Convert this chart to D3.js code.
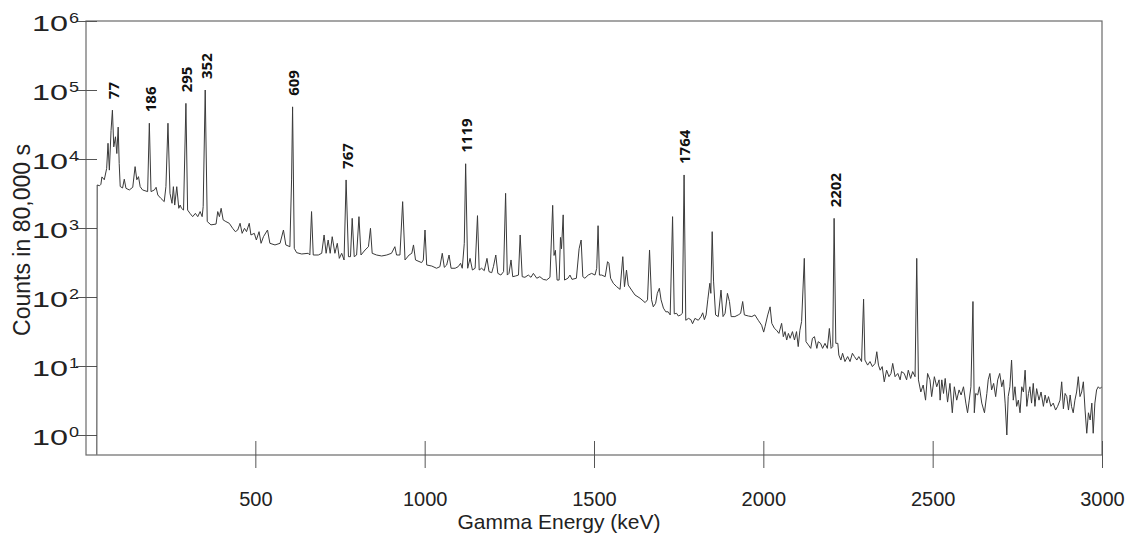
<!DOCTYPE html>
<html>
<head>
<meta charset="utf-8">
<script src="https://cdn.jsdelivr.net/npm/d3@7"></script>
<style>
  html, body { margin: 0; padding: 0; background: #fff; }
  svg { display: block; }
</style>
</head>
<body>
<svg id="chart" width="1135" height="537"></svg>
<script>
// ---------- DATA ----------
// Gamma spectrum: [energy keV, counts in 80,000 s]
const spectrum = [
  [32,0.52],[33,4200],[40,4100],[44,4300],[47,5500],[54,5000],[61,7300],[65,16900],[69,6900],[74,26000],
  [78,51000],[82,15000],[87,21000],[91,12000],[95,29000],[98,8600],[101,4000],[108,3800],[113,5100],[118,3760],
  [128,3560],[138,3890],[145,7750],[150,5000],[155,5550],[160,3970],[167,3560],[182,3370],[187,33000],[192,3370],
  [202,3560],[207,3890],[212,3010],[221,2690],[231,2410],[236,3970],[242,33000],[248,3180],[254,2280],[258,3970],
  [262,2150],[268,3970],[274,1930],[278,2150],[282,1930],[288,1820],[295,64000],[300,1820],[307,1630],[315,1460],
  [323,1630],[330,1460],[337,1730],[343,1460],[346,2040],[352,100000],[358,1240],[369,1110],[384,1140],[389,1730],
  [394,1460],[399,1930],[405,1310],[413,1240],[423,1170],[433,990],[441,885],[448,935],[455,1170],[461,837],
  [468,990],[474,885],[482,1170],[487,792],[497,837],
  [503,670],[511,885],[517,600],[524,748],[536,935],[543,600],[558,568],[573,600],[583,935],[590,568],
  [602,536],[607,4970],[610,57000],[615,507],[622,439],[637,420],[656,430],[661,406],[666,1730],[671,406],
  [686,406],[696,430],[703,792],[709,430],[715,670],[721,430],[727,748],[735,430],[742,600],[748,363],
  [755,430],[762,344],[768,4970],[775,384],[781,384],[786,1380],[792,384],[799,406],[806,1460],[812,406],
  [824,480],[834,536],[840,990],[845,430],[858,406],[873,393],[888,406],[902,430],[912,536],[917,406],
  [927,406],[935,2410],[942,344],[954,406],[962,430],[967,568],[973,344],[991,315],[996,344],[1001,935],
  [1006,291],[1021,281],[1035,261],[1045,275],[1052,430],[1058,269],[1065,291],[1072,406],[1078,261],[1090,261],
  [1099,275],[1106,308],[1111,261],[1117,600],[1121,8530],[1127,261],[1134,363],[1141,246],[1149,261],[1156,1510],
  [1161,246],[1168,261],[1176,241],[1184,363],[1190,233],[1198,225],[1203,275],[1210,406],[1216,220],[1225,208],
  [1233,233],[1239,3180],[1244,208],[1249,220],[1255,344],[1260,197],[1269,202],[1277,208],[1282,792],[1288,197],
  [1296,193],[1306,208],[1314,193],[1321,220],[1331,187],[1340,197],[1350,180],[1360,176],[1370,193],[1378,2130],
  [1382,400],[1386,475],[1391,176],[1397,176],[1401,730],[1404,500],[1409,1550],[1413,176],[1423,187],[1429,208],
  [1435,180],[1448,187],[1456,500],[1462,670],[1467,197],[1473,187],[1483,208],[1493,220],[1503,208],[1508,260],
  [1512,1080],[1516,208],[1523,208],[1533,197],[1540,325],[1544,308],[1549,187],[1557,158],[1567,141],[1577,129],
  [1585,384],[1590,141],[1596,246],[1601,149],[1611,126],[1621,107],[1636,96],[1651,83],[1658,91],[1664,480],
  [1670,91],[1675,72],[1682,81],[1687,113],[1693,134],[1698,91],[1705,69],[1712,61],[1719,61],[1725,55],
  [1732,1460],[1737,57],[1744,58],[1749,53],[1756,55],[1761,58],[1766,5870],[1771,46],[1779,49],[1786,47],
  [1791,41],[1798,49],[1808,46],[1816,52],[1821,59],[1826,47],[1831,55],[1836,91],[1842,158],[1845,113],
  [1849,885],[1853,170],[1859,55],[1867,52],[1875,126],[1881,52],[1887,58],[1894,113],[1900,86],[1905,52],
  [1916,52],[1926,55],[1933,58],[1939,86],[1944,55],[1956,53],[1966,52],[1975,55],[1985,46],[1995,39],
  [2001,31],[2005,37],[2013,55],[2020,72],[2025,41.5],[2033,35],[2039,33],[2046,29.7],[2054,41.5],[2059,26.6],
  [2064,31.5],[2069,23.8],[2074,29.7],[2079,25.2],[2086,31.5],[2092,23.8],[2098,31.5],[2103,19.1],[2108,33],[2113,44],
  [2121,363],[2126,22.5],[2133,20.2],[2140,18.0],[2145,25.2],[2151,26.6],[2158,18.0],[2162,22.5],[2169,21.3],[2175,18.0],
  [2182,21.3],[2189,18.0],[2195,35],[2200,18.0],[2205,19.1],[2209,1380],[2214,21.3],[2220,21.3],[2223,14.4],[2229,12.2],
  [2234,15.3],[2241,11.6],[2249,13.7],[2256,11.6],[2263,15.3],[2269,13.7],[2276,12.2],[2282,13.7],[2290,11.6],[2296,93],
  [2300,12.2],[2308,10.3],[2315,11.6],[2322,9.8],[2330,10.9],[2335,16.1],[2340,10.3],[2345,8.7],[2351,9.8],[2357,5.9],
  [2364,8.7],[2371,7.0],[2377,7.8],[2382,10.9],[2389,7.0],[2397,7.8],[2404,6.3],[2408,8.3],[2416,7.8],[2423,6.3],
  [2428,8.7],[2435,6.6],[2441,8.3],[2448,7.0],[2453,363],[2458,6.3],[2465,4.2],[2472,5.3],[2479,3.2],[2485,7.8],
  [2492,6.3],[2497,3.6],[2505,7.0],[2512,5.0],[2519,6.3],[2522,3.2],[2527,6.3],[2532,4.0],[2537,6.6],[2544,3.0],
  [2551,5.6],[2558,2.1],[2564,5.0],[2571,3.2],[2578,4.5],[2584,3.8],[2591,5.0],[2598,2.9],[2603,2.1],[2608,3.2],
  [2613,5.0],[2619,86],[2623,2.1],[2627,4.0],[2633,3.8],[2638,5.0],[2645,2.9],[2653,2.1],[2660,4.0],[2664,6.3],
  [2669,7.8],[2674,4.5],[2680,5.6],[2686,3.6],[2692,6.3],[2698,7.8],[2704,5.0],[2709,6.3],[2714,2.9],[2719,1.0],
  [2723,3.6],[2728,5.0],[2733,12.2],[2738,3.2],[2743,5.0],[2748,2.6],[2753,3.2],[2758,2.1],[2763,5.0],[2768,4.2],
  [2773,8.7],[2778,2.6],[2783,4.0],[2787,5.0],[2792,2.9],[2797,5.6],[2802,2.6],[2807,4.7],[2814,3.2],[2820,4.2],
  [2827,2.6],[2832,3.8],[2837,2.9],[2842,3.6],[2849,2.6],[2856,2.9],[2863,2.3],[2869,2.6],[2876,3.2],[2881,5.9],
  [2886,2.4],[2891,4.0],[2896,3.6],[2901,2.3],[2906,3.8],[2910,2.6],[2915,2.1],[2920,3.2],[2925,4.2],[2930,7.0],
  [2935,3.6],[2940,4.2],[2945,5.9],[2950,2.3],[2955,1.06],[2960,2.1],[2965,1.65],[2970,2.9],[2974,1.06],[2979,2.9],
  [2984,4.5],[2989,5.0],[2994,4.7],[2999,5.0]
];
// Labelled peaks (keV)
const peakLabels = [77, 186, 295, 352, 609, 767, 1119, 1764, 2202];
// Axis ticks
const xTickValues = [500, 1000, 1500, 2000, 2500, 3000];
const yTickExponents = [0, 1, 2, 3, 4, 5, 6];

// ---------- LAYOUT ----------
const svg = d3.select("#chart");
const plot = { left: 86, right: 1102, top: 21, bottom: 455 };

const x = d3.scaleLinear().domain([0, 3000]).range([plot.left, plot.right]);
const y = d3.scaleLog().domain([Math.pow(10, -20 / 69), 1e6]).range([plot.bottom, plot.top]);

svg.append("rect").attr("width", 1135).attr("height", 537).attr("fill", "#fff");

svg.append("defs").append("clipPath").attr("id", "clip")
  .append("rect")
  .attr("x", plot.left).attr("y", plot.top)
  .attr("width", plot.right - plot.left).attr("height", plot.bottom - plot.top);

// Frame
svg.append("rect")
  .attr("x", plot.left).attr("y", plot.top)
  .attr("width", plot.right - plot.left).attr("height", plot.bottom - plot.top)
  .attr("fill", "none").attr("stroke", "#6a6a6a").attr("stroke-width", 1.2);

// X axis
const xAxis = svg.append("g")
  .attr("transform", `translate(0,${plot.bottom})`)
  .call(d3.axisBottom(x).tickValues(xTickValues).tickSizeOuter(0).tickSize(13).tickFormat(d3.format("d")));
xAxis.select(".domain").remove();
xAxis.selectAll(".tick line").attr("y1", -14).attr("y2", 13).attr("stroke", "#555");
xAxis.selectAll(".tick text")
  .attr("y", 51).attr("dy", 0)
  .attr("font-family", "Liberation Sans, Arial, sans-serif")
  .attr("font-size", 20).attr("fill", "#222");

// Y axis
const yAxis = svg.append("g")
  .attr("transform", `translate(${plot.left},0)`)
  .call(d3.axisLeft(y).tickValues(yTickExponents.map(e => Math.pow(10, e))).tickSizeOuter(0).tickSize(10).tickFormat(""));
yAxis.select(".domain").remove();
yAxis.selectAll(".tick line").attr("x1", -10).attr("x2", 11).attr("stroke", "#555");

const yLab = svg.append("g")
  .attr("font-family", "Liberation Sans, Arial, sans-serif")
  .attr("fill", "#222");
yTickExponents.forEach(e => {
  const ty = y(Math.pow(10, e));
  yLab.append("text")
    .attr("x", 32).attr("y", ty + 10)
    .attr("font-size", 22)
    .attr("textLength", 36).attr("lengthAdjust", "spacingAndGlyphs")
    .text("10");
  yLab.append("text")
    .attr("x", 69).attr("y", ty + 2)
    .attr("font-size", 15)
    .attr("textLength", 10).attr("lengthAdjust", "spacingAndGlyphs")
    .text(String(e));
});

// Axis titles
svg.append("text")
  .attr("x", 559).attr("y", 529)
  .attr("text-anchor", "middle")
  .attr("font-family", "Liberation Sans, Arial, sans-serif")
  .attr("font-size", 21).attr("fill", "#222")
  .text("Gamma Energy (keV)");

svg.append("text")
  .attr("transform", "translate(30,240) rotate(-90)")
  .attr("text-anchor", "middle")
  .attr("font-family", "Liberation Sans, Arial, sans-serif")
  .attr("font-size", 23).attr("fill", "#222")
  .text("Counts in 80,000 s");

// Spectrum line
const line = d3.line().x(d => x(d[0])).y(d => y(d[1]));
svg.append("path")
  .datum(spectrum)
  .attr("clip-path", "url(#clip)")
  .attr("d", line)
  .attr("fill", "none")
  .attr("stroke", "#3a3a3a")
  .attr("stroke-width", 1)
  .attr("stroke-linejoin", "miter");

// Peak labels: placed above the tallest point near each labelled energy
const labG = svg.append("g");
peakLabels.forEach(E => {
  const near = spectrum.filter(d => Math.abs(d[0] - E) <= 10);
  const top = near.reduce((a, b) => (b[1] > a[1] ? b : a));
  labG.append("text")
    .attr("transform", `translate(${x(top[0]) + 1},${y(top[1]) - 11}) rotate(-90)`)
    .attr("dy", "0.36em")
    .attr("text-anchor", "start")
    .attr("font-family", "Open Sans, Liberation Sans, sans-serif")
    .attr("font-weight", 700)
    .attr("font-size", 15)
    .attr("fill", "#111")
    .text(String(E));
});
</script>
</body>
</html>
